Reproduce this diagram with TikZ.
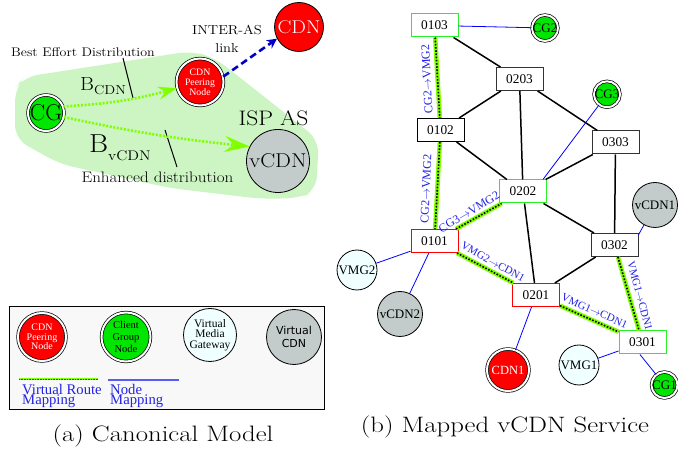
\documentclass[tikz,border=0pt]{standalone}
\usepackage{fontspec}
\usepackage{graphicx}
\newfontfamily\tms{Liberation Serif}
\newfontfamily\dvs{DejaVu Sans}
\usetikzlibrary{arrows.meta}
\newcommand\fsz[1]{\fontsize{#1}{#1}\selectfont}
\newcommand\fszb[2]{\fontsize{#1}{#2}\selectfont}
\newcommand\wx[1]{\scalebox{1.12}[1]{#1}}
\definecolor{cdnred}{RGB}{255,0,0}
\definecolor{cggreen}{RGB}{0,230,0}
\definecolor{vgray}{RGB}{195,203,203}
\definecolor{vmgfill}{RGB}{240,255,255}
\definecolor{blobgreen}{RGB}{205,245,195}
\definecolor{routegreen}{RGB}{127,255,0}
\definecolor{boxgreen}{RGB}{40,240,40}
\definecolor{lblue}{RGB}{35,35,230}
\definecolor{legblue}{RGB}{90,90,250}
\definecolor{interblue}{RGB}{0,0,200}
\definecolor{legfill}{RGB}{248,248,248}
\tikzset{
  dbl/.style={circle, draw=black, line width=0.7pt, double=white, double distance=2pt, inner sep=0pt},
  sgl/.style={circle, draw=black, line width=0.8pt, inner sep=0pt},
  netbox/.style={rectangle, draw, fill=white, line width=1pt, minimum width=47pt, minimum height=23pt, inner sep=0pt, font=\tms\fsz{13.3}},
  link/.style={line width=1.5pt, black},
  nmap/.style={blue, line width=0.8pt},
  vroute/.style={preaction={draw=routegreen, line width=4.5pt}, draw=black, line width=1.6pt, dash pattern=on 1.6pt off 1.6pt},
  garrow/.style={routegreen, line width=2.6pt, dash pattern=on 2pt off 1.6pt},
  rlabel/.style={text=lblue, font=\tms\fsz{12}, inner sep=0pt},
}
\begin{document}
\begin{tikzpicture}[x=1pt,y=-1pt]
\useasboundingbox (0,0) rectangle (678,454);
\fill[white] (0,0) rectangle (678,454);
% ---------- left panel ----------
\fill[blobgreen, rounded corners=14pt] (15,88) -- (24,77) -- (192,51) -- (215,58) -- (319,140) -- (316,191) -- (300,198) -- (262,199) -- (170,188) -- (60,164) -- (15,139) -- cycle;
\node[dbl, fill=cggreen, minimum size=36pt, font=\fsz{23}] (cg) at (46,113) {CG};
\node[dbl, fill=cdnred, minimum size=47pt, text=white, align=center, font=\tms\fszb{9.8}{10}] (cdnp) at (200,82) {CDN\\Peering\\Node};
\node[sgl, fill=cdnred, minimum size=49pt, text=white, font=\fsz{18.5}] (cdn) at (299,27) {\wx{CDN}};
\node[sgl, fill=vgray, minimum size=63pt, font=\fsz{20}] (vcdn) at (278,161) {\wx{vCDN}};
\node[font=\fsz{21}, inner sep=0pt] (isp) at (273.5,118) {\wx{ISP AS}};
\node[font=\fszb{13}{18.5}, align=center, inner sep=0pt] (inter) at (227,39) {\wx{INTER-AS}\\\wx{link}};
\node[font=\fsz{12.5}, inner sep=0pt] (best) at (83,52.5) {\wx{Best Effort Distribution}};
\node[font=\fsz{15.2}, inner sep=0pt] (enh) at (157.5,177.5) {\wx{Enhanced distribution}};
\node[anchor=base west, inner sep=0pt] (bcdn) at (80,91) {\fsz{19}\wx{B}\raisebox{-4pt}{\fsz{13}\wx{CDN}}};
\node[anchor=base west, inner sep=0pt] (bvcdn) at (89,153) {\fsz{26}\wx{B}\raisebox{-8pt}{\fsz{14}\wx{vCDN}}};
\coordinate (c1a) at (123,58); \coordinate (c1b) at (133,98);
\coordinate (c2a) at (165,130); \coordinate (c2b) at (177,167);
\draw[line width=1pt] (c1a) -- (c1b);
\draw[line width=1pt] (c2a) -- (c2b);
\draw[garrow, -{Stealth[length=19pt,width=13pt,inset=7pt,fill=routegreen]}] (cg.21) to[bend right=6] (cdnp.195);
\draw[garrow, -{Stealth[length=25pt,width=16pt,inset=9pt,fill=routegreen]}] (cg.-13) to[bend right=3] (vcdn.153);
\draw[interblue, line width=2.6pt, dash pattern=on 7pt off 4pt, -{Stealth[length=10pt,width=10pt]}] (cdnp.13) -- (cdn.208);
% legend
\draw[line width=1pt, fill=legfill] (9,307) rectangle (324,410);
\node[dbl, fill=cdnred, minimum size=48pt, text=white, align=center, font=\tms\fszb{10}{9.5}] (lcdn) at (42,337) {CDN\\Peering\\Node};
\node[dbl, fill=cggreen, minimum size=49pt, align=center, font=\tms\fszb{10.5}{12}] (lcg) at (126,337) {Client\\Group\\Node};
\node[sgl, fill=vmgfill, minimum size=53pt, align=center, font=\tms\fszb{11.5}{10.5}] (lvmg) at (210,335) {Virtual\\Media\\Gateway};
\node[sgl, fill=vgray, minimum size=55pt, align=center, font=\dvs\fszb{11}{13}] (lvcdn) at (294,337) {Virtual\\CDN};
\coordinate (lr1) at (19,379); \coordinate (lr2) at (98,379);
\coordinate (lb1) at (108,380); \coordinate (lb2) at (179,380);
\draw[preaction={draw=routegreen, line width=1.6pt}, draw=black!70, line width=0.7pt, dash pattern=on 0.7pt off 0.9pt] (lr1) -- (lr2);
\draw[legblue, line width=1.4pt] (lb1) -- (lb2);
\node[anchor=base west, align=left, text=lblue, font=\tms\fszb{14.7}{10.5}, inner sep=0pt] (lt1) at (22,405) {Virtual Route\\Mapping};
\node[anchor=base west, align=left, text=lblue, font=\tms\fszb{14.7}{10.5}, inner sep=0pt] (lt2) at (110,405) {Node\\Mapping};
\node[anchor=base, inner sep=0pt] (capa) at (163,442) {\scalebox{1.2}[1]{\fsz{22.3}(a) Canonical Model}};
% ---------- right panel ----------
\node[netbox, draw=boxgreen] (n0103) at (434.5,25.5) {0103};
\node[netbox, draw=black!80] (n0203) at (519.5,79) {0203};
\node[netbox, draw=black] (n0102) at (440.5,130) {0102};
\node[netbox, draw=black!80] (n0303) at (615.5,142.5) {0303};
\node[netbox, draw=boxgreen] (n0202) at (523,191.5) {0202};
\node[netbox, draw=cdnred] (n0101) at (434.5,241) {0101};
\node[netbox, draw=black!80] (n0302) at (614.5,245) {0302};
\node[netbox, draw=cdnred] (n0201) at (536,295) {0201};
\node[netbox, draw=boxgreen] (n0301) at (642.5,342.5) {0301};
\node[dbl, fill=cggreen, minimum size=25pt, font=\tms\fsz{13}] (cg2) at (545,28) {CG2};
\node[dbl, fill=cggreen, minimum size=25pt, font=\tms\fsz{13}] (cg3) at (607,94.3) {CG3};
\node[sgl, fill=vgray, minimum size=45pt, font=\tms\fsz{13}] (vcdn1) at (655,205) {vCDN1};
\node[sgl, fill=vmgfill, minimum size=40pt, font=\tms\fsz{13}] (vmg2) at (357,270) {VMG2};
\node[sgl, fill=vgray, minimum size=45pt, font=\tms\fsz{13}] (vcdn2) at (400,314) {vCDN2};
\node[dbl, fill=cdnred, minimum size=42pt, text=white, font=\tms\fsz{12.5}] (cdn1) at (508,370) {CDN1};
\node[sgl, fill=vmgfill, minimum size=40pt, font=\tms\fsz{13}] (vmg1) at (579,365) {VMG1};
\node[dbl, fill=cggreen, minimum size=25pt, font=\tms\fsz{13}] (cg1) at (664.5,385) {CG1};
% physical links
\draw[link] (n0103) -- (n0203);
\draw[link] (n0203) -- (n0102);
\draw[link] (n0203) -- (n0202);
\draw[link] (n0203) -- (n0303);
\draw[link] (n0102) -- (n0202);
\draw[link] (n0303) -- (n0202);
\draw[link] (n0303) -- (n0302);
\draw[link] (n0202) -- (n0302);
\draw[link] (n0202) -- (n0201);
\draw[link] (n0302) -- (n0201);
% node mappings
\draw[nmap] (n0103) -- (cg2);
\draw[nmap] (n0202.31) -- (cg3);
\draw[nmap] (n0302.23) -- (vcdn1);
\draw[nmap] (n0101.203) -- (vmg2);
\draw[nmap] (n0101) -- (vcdn2);
\draw[nmap] (n0201) -- (cdn1);
\draw[nmap] (n0301) -- (vmg1);
\draw[nmap] (n0301.258) -- (cg1);
% virtual routes
\draw[vroute] (n0103) -- (n0102);
\draw[vroute] (n0102) -- (n0101);
\draw[vroute] (n0101) -- (n0202);
\draw[vroute] (n0101) -- (n0201);
\draw[vroute] (n0201) -- (n0301);
\draw[vroute] (n0302) -- (n0301);
\node[rlabel, rotate=92.8] (l1) at (427,79) {CG2$\rightarrow$VMG2};
\node[rlabel, rotate=87.4] (l2) at (426,189) {CG2$\rightarrow$VMG2};
\node[rlabel, rotate=31] (l3) at (469,212) {CG3$\rightarrow$VMG2};
\node[rlabel, rotate=-29, font=\tms\fsz{11}] (l4) at (493,262) {VMG2$\rightarrow$CDN1};
\node[rlabel, rotate=-24, font=\tms\fsz{11}] (l5) at (594.5,311) {VMG1$\rightarrow$CDN1};
\node[rlabel, rotate=-75, font=\tms\fsz{11}] (l6) at (640,296) {VMG1$\rightarrow$CDN1};
\node[anchor=base, inner sep=0pt] (capb) at (505,433) {\scalebox{1.2}[1]{\fsz{22.3}(b) Mapped vCDN Service}};
\end{tikzpicture}
\end{document}
